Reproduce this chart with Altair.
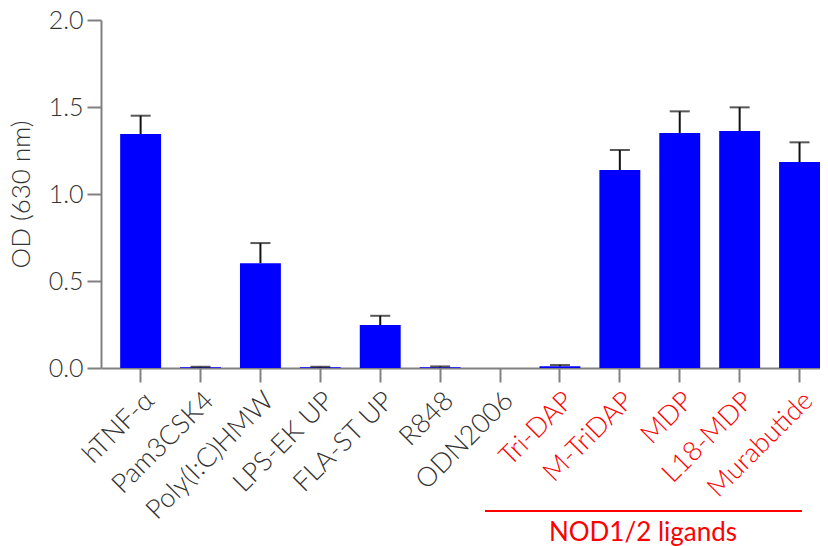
import altair as alt
import pandas as pd

categories = ["hTNF-α", "Pam3CSK4", "Poly(I:C)HMW", "LPS-EK UP", "FLA-ST UP", "R848",
              "ODN2006", "Tri-DAP", "M-TriDAP", "MDP", "L18-MDP", "Murabutide"]
od_values = [1.345, 0.004, 0.602, 0.004, 0.247, 0.005, 0.0, 0.010, 1.138, 1.351, 1.362, 1.184]
od_errors = [0.105, 0.003, 0.116, 0.003, 0.053, 0.004, 0.0, 0.007, 0.115, 0.124, 0.136, 0.113]
nod_ligands = ["Tri-DAP", "M-TriDAP", "MDP", "L18-MDP", "Murabutide"]
group_label = "NOD1/2 ligands"
y_ticks = [0.0, 0.5, 1.0, 1.5, 2.0]

df = pd.DataFrame({"cat": categories, "od": od_values, "err": od_errors})
df["top"] = df["od"] + df["err"]

RED = "#ff0000"
FONT = "Lato"

red_test = "indexof(" + str(nod_ligands) + ", datum.value) >= 0"

x_enc = alt.X(
    "cat:N",
    sort=categories,
    title=None,
    scale=alt.Scale(paddingInner=0.317, paddingOuter=0.16, align=1),
    axis=alt.Axis(
        labelAngle=-45, labelAlign="right", labelBaseline="top",
        labelFontSize=27, labelFont=FONT, labelFontWeight=300,
        labelColor={"condition": {"test": red_test, "value": RED}, "value": "#333333"},
        labelPadding=5, tickSize=14, tickWidth=2, tickColor="#808080",
        domainColor="#808080", domainWidth=2, labelOverlap=False,
    ),
)
y_enc = alt.Y(
    "od:Q",
    scale=alt.Scale(domain=[0, 2]),
    title="OD (630 nm)",
    axis=alt.Axis(
        values=y_ticks, format=".1f", grid=False,
        labelFontSize=25, labelFont=FONT, labelFontWeight=300, labelColor="#333333",
        labelPadding=4, tickSize=14, tickWidth=2, tickColor="#808080",
        domainColor="#808080", domainWidth=2,
        titleFontSize=26, titleFont=FONT, titleFontWeight=300, titleColor="#333333",
        titlePadding=14,
    ),
)

base = alt.Chart(df)
bars = base.mark_bar(color="#0000ff").encode(x=x_enc, y=y_enc)
err_df = base.transform_filter("datum.err > 0")
stems = err_df.mark_rule(color="#111111", strokeWidth=2).encode(
    x=alt.X("cat:N", sort=categories), y="od:Q", y2="top:Q")
caps = err_df.mark_tick(color="#111111", thickness=2, size=20, orient="horizontal").encode(
    x=alt.X("cat:N", sort=categories), y="top:Q")

ann = alt.Chart(pd.DataFrame({"t": [group_label]}))
ann_line = ann.mark_rule(color=RED, strokeWidth=2).encode(
    x=alt.value(384), x2=alt.value(701), y=alt.value(491))
ann_text = ann.mark_text(color=RED, fontSize=26, font=FONT, align="center",
                         baseline="alphabetic").encode(
    text="t:N", x=alt.value(542), y=alt.value(521))

chart = alt.layer(bars, stems, caps, ann_line, ann_text).properties(
    width=719, height=348,
    padding={"left": 93, "top": 12, "right": 0, "bottom": 178},
    autosize=alt.AutoSizeParams(type="none"),
).configure_view(stroke=None)

chart.save("out.html", embed_options={"renderer": "svg", "actions": False})
